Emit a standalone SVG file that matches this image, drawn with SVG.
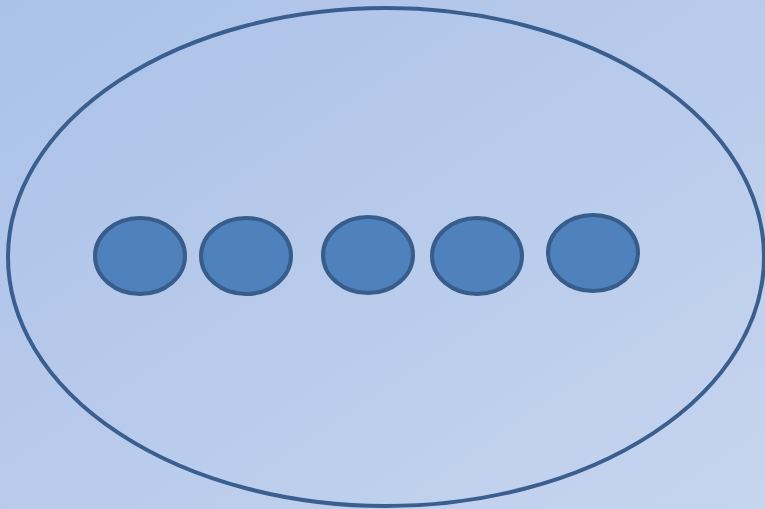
<svg xmlns="http://www.w3.org/2000/svg" width="765" height="509" viewBox="0 0 765 509">
<defs>
<linearGradient id="bg" x1="0" y1="0" x2="1" y2="1">
<stop offset="0" stop-color="#abc1e8"/>
<stop offset="1" stop-color="#c6d5ef"/>
</linearGradient>
<style>
.outer{fill:none;stroke:#3a5e8e;stroke-width:4}
.dot{fill:#4f81bd;stroke:#385d8a;stroke-width:4}
</style>
</defs>
<rect width="765" height="509" fill="url(#bg)"/>
<g id="container"><ellipse class="outer" cx="386" cy="257" rx="378" ry="249"/></g>
<g id="n1"><ellipse class="dot" cx="140" cy="256" rx="45" ry="38"/></g>
<g id="n2"><ellipse class="dot" cx="246" cy="256" rx="45" ry="38"/></g>
<g id="n3"><ellipse class="dot" cx="368" cy="255" rx="45" ry="38"/></g>
<g id="n4"><ellipse class="dot" cx="477" cy="256" rx="45" ry="38"/></g>
<g id="n5"><ellipse class="dot" cx="593" cy="253" rx="45" ry="38"/></g>
<g id="connectors"></g>
</svg>
